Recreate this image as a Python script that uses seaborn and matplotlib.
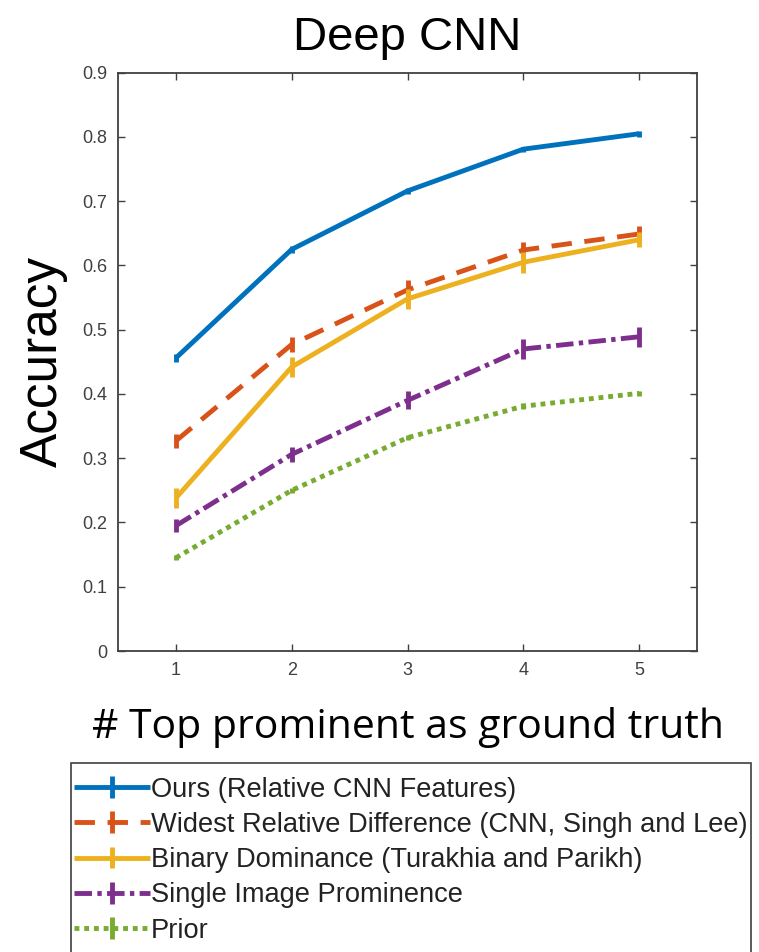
import matplotlib
matplotlib.use("Agg")
import matplotlib.pyplot as plt
import seaborn as sns
import pandas as pd
from matplotlib.container import ErrorbarContainer
from matplotlib.legend_handler import HandlerErrorbar
from matplotlib.lines import Line2D

# ---- data ----
k_values = [1, 2, 3, 4, 5]
series_names = [
    "Ours (Relative CNN Features)",
    "Widest Relative Difference (CNN, Singh and Lee)",
    "Binary Dominance (Turakhia and Parikh)",
    "Single Image Prominence",
    "Prior",
]
ours = [0.456, 0.625, 0.716, 0.781, 0.805]
widest = [0.327, 0.477, 0.562, 0.624, 0.649]
binary = [0.238, 0.442, 0.548, 0.605, 0.640]
single = [0.195, 0.306, 0.390, 0.470, 0.489]
prior = [0.145, 0.250, 0.332, 0.381, 0.401]

ours_err = [0.006, 0.006, 0.005, 0.004, 0.005]
widest_err = [0.011, 0.011, 0.015, 0.013, 0.012]
binary_err = [0.015, 0.016, 0.016, 0.016, 0.012]
single_err = [0.010, 0.012, 0.014, 0.016, 0.016]
prior_err = [0.004, 0.004, 0.004, 0.005, 0.004]

ytick_vals = [0, 0.1, 0.2, 0.3, 0.4, 0.5, 0.6, 0.7, 0.8, 0.9]
ytick_labels = ["0", "0.1", "0.2", "0.3", "0.4", "0.5", "0.6", "0.7", "0.8", "0.9"]

title_text = "Deep CNN"
xlabel_text = "# Top prominent as ground truth"
ylabel_text = "Accuracy"

# ---- styles ----
colors = ["#0072BD", "#D95319", "#EDB120", "#7E2F8E", "#77AC30"]
styles = [(0, ()), (0, (4.2, 2.6)), (0, ()), (0, (3.6, 1.1, 0.9, 1.1)), (0, (1.0, 1.0))]
all_vals = [ours, widest, binary, single, prior]
all_errs = [ours_err, widest_err, binary_err, single_err, prior_err]

sns.set_theme(style="white")
plt.rcParams["font.family"] = ["Liberation Sans", "DejaVu Sans"]

fig = plt.figure(figsize=(7.59, 9.52), dpi=100)
ax = fig.add_axes([118 / 759, 1 - 651 / 952, (697 - 118) / 759, (651 - 72.7) / 952])

lw = 3.5
handles = []
for name, vals, errs, c, ls in zip(series_names, all_vals, all_errs, colors, styles):
    df = pd.DataFrame({"k": k_values, "acc": vals})
    sns.lineplot(data=df, x="k", y="acc", ax=ax, color=c, linewidth=lw,
                 linestyle=ls, errorbar=None, legend=False)
    line = ax.get_lines()[-1]
    line.set_solid_capstyle("butt")
    eb = ax.errorbar(k_values, vals, yerr=errs, fmt="none", ecolor=c,
                     elinewidth=lw, capsize=0)
    barcols = eb.lines[2]
    cont = ErrorbarContainer((line, (), barcols), has_xerr=False, has_yerr=True,
                             label=name)
    handles.append(cont)

ax.set_xlim(0.5, 5.5)
ax.set_ylim(0, 0.9)
ax.set_xticks(k_values)
ax.set_xticklabels([str(k) for k in k_values])
ax.set_yticks(ytick_vals)
ax.set_yticklabels(ytick_labels)
ax.tick_params(axis="both", direction="in", length=5, width=1.0, color="#404040",
               labelsize=13, labelcolor="#404040", top=True, right=True,
               left=True, bottom=True, pad=8)
for sp in ax.spines.values():
    sp.set_visible(True)
    sp.set_color("#404040")
    sp.set_linewidth(1.3)

ax.set_xlabel(xlabel_text, fontsize=29.5, family=["Open Sans", "DejaVu Sans"],
              color="black", labelpad=20)
ax.set_ylabel(ylabel_text, fontsize=37, color="black", labelpad=10)
ax.set_title(title_text, fontsize=34, color="black", pad=16)

# the legend box in the original runs past the bottom of the image
spacer = Line2D([], [], alpha=0)
leg = fig.legend(handles=handles + [spacer], labels=series_names + [" "],
                 handler_map={ErrorbarContainer: HandlerErrorbar(xerr_size=0.4, yerr_size=0.4)},
                 loc="upper left", bbox_to_anchor=(71 / 759, 1 - 763 / 952),
                 fontsize=19.6, frameon=True, fancybox=False, framealpha=1,
                 edgecolor="#404040", handlelength=2.8, handletextpad=0.02,
                 borderpad=0.12, labelspacing=0.34, borderaxespad=0,
                 title=" ", title_fontsize=1)
leg.get_frame().set_linewidth(1.2)
for t in leg.get_texts():
    t.set_color("#222222")

fig.savefig("out.png", dpi=100)
